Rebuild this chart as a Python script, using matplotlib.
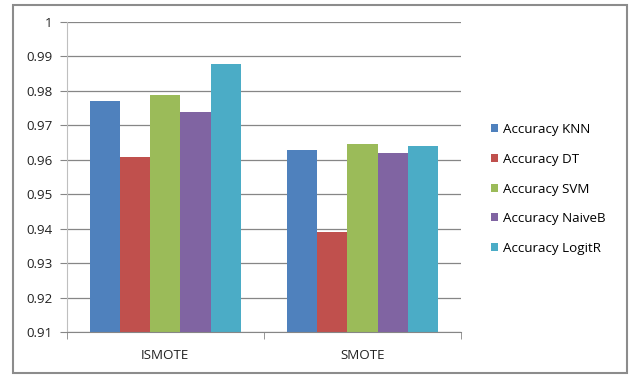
import matplotlib
matplotlib.use("Agg")
import matplotlib.pyplot as plt
import numpy as np
from matplotlib.patches import Rectangle

categories = ["ISMOTE", "SMOTE"]
series_names = ["Accuracy KNN", "Accuracy DT", "Accuracy SVM", "Accuracy NaiveB", "Accuracy LogitR"]
knn = [0.9772, 0.9627]
dt = [0.9608, 0.9390]
svm = [0.9788, 0.9646]
naiveb = [0.9739, 0.9621]
logitr = [0.9879, 0.9640]
yticks = [0.91, 0.92, 0.93, 0.94, 0.95, 0.96, 0.97, 0.98, 0.99, 1.0]
ytick_labels = ["0.91", "0.92", "0.93", "0.94", "0.95", "0.96", "0.97", "0.98", "0.99", "1"]

colors = ["#4F81BD", "#C0504D", "#9BBB59", "#8064A2", "#4BACC6"]
series = [knn, dt, svm, naiveb, logitr]

plt.rcParams['font.family'] = ['Open Sans', 'DejaVu Sans']
FS = 9.6

fig = plt.figure(figsize=(6.3, 3.77), dpi=100)
# outer chart border
fig.patches.append(Rectangle((13/630, 1-373/377), (627-13)/630, (373-5)/377,
                             transform=fig.transFigure, fill=False,
                             edgecolor="#8C8C8C", linewidth=1.5))

ax = fig.add_axes([66.7/630, 1-332/377, (461-66.7)/630, (332-22)/377])
x = np.arange(len(categories))
group_w = 0.767
bw = group_w / len(series)
for i, (vals, c, name) in enumerate(zip(series, colors, series_names)):
    offs = -group_w/2 + bw*(i+0.5)
    ax.bar(x + offs, [v - 0.91 for v in vals], bw, bottom=0.91, color=c,
           label=name, linewidth=0)

ax.set_xlim(-0.5, 1.5)
ax.set_ylim(0.91, 1.0)
ax.set_yticks(yticks)
ax.set_yticklabels(ytick_labels, fontsize=FS, color="#222222")
ax.yaxis.grid(True, color="#868686", linewidth=0.9)
ax.set_axisbelow(True)
ax.set_xticks(x)
ax.set_xticklabels(categories, fontsize=FS, color="#222222")
ax.tick_params(axis='x', length=0, pad=12)
ax.set_xticks([-0.5, 0.5, 1.5], minor=True)
ax.tick_params(axis='x', which='minor', length=5, color="#868686")
ax.tick_params(axis='y', length=5, color="#868686", pad=5)
for s in ["top", "right"]:
    ax.spines[s].set_visible(False)
ax.spines["left"].set_color("#BFBFBF")
ax.spines["bottom"].set_color("#868686")

leg = ax.legend(loc="center left", bbox_to_anchor=(479/630, 1-189/377),
                bbox_transform=fig.transFigure, frameon=False, fontsize=FS,
                handlelength=0.55, handleheight=0.55, handletextpad=0.35,
                labelspacing=1.25)

fig.savefig("out.png", dpi=100)
